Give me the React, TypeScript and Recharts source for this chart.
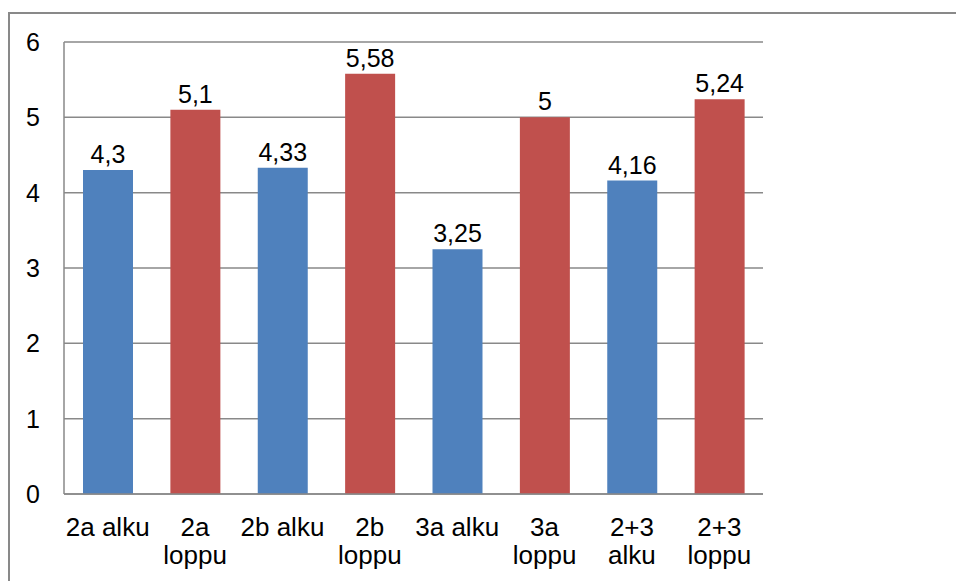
import React from "react";
import { Bar, BarChart, CartesianGrid, Cell, LabelList, XAxis, YAxis } from "recharts";

const categories = ["2a alku", "2a\nloppu", "2b alku", "2b\nloppu", "3a alku", "3a\nloppu", "2+3\nalku", "2+3\nloppu"];
const values = [4.3, 5.1, 4.33, 5.58, 3.25, 5, 4.16, 5.24];
const barColors = ["#4F81BD", "#C0504D", "#4F81BD", "#C0504D", "#4F81BD", "#C0504D", "#4F81BD", "#C0504D"];
const yTicks = [0, 1, 2, 3, 4, 5, 6];

const data = categories.map((name, i) => ({ name, value: values[i] }));

const FONT = "'Liberation Sans', Arial, sans-serif";
const GRAY = "#898989";

function CategoryTick({ x, y, payload }: any) {
  const lines = String(payload.value).split("\n");
  return (
    <text x={x} y={y} textAnchor="middle" fontFamily={FONT} fontSize={26} fill="#000">
      {lines.map((line, i) => (
        <tspan key={i} x={x} dy={i === 0 ? 42 : 28}>
          {line}
        </tspan>
      ))}
    </text>
  );
}

const fmt = (v: any) => String(v).replace(".", ",");

export default function App() {
  return (
    <div style={{ position: "absolute", left: 0, top: 0, width: 956, height: 581, overflow: "hidden", background: "#fff" }}>
      <div
        style={{
          position: "absolute",
          left: 8,
          top: 12,
          width: 1000,
          height: 640,
          border: `2px solid ${GRAY}`,
          boxSizing: "border-box",
        }}
      />
      <div style={{ position: "absolute", left: 0, top: 0 }}>
        <BarChart width={956} height={581} data={data} margin={{ top: 42, right: 193, left: 0, bottom: 7 }}>
          <CartesianGrid vertical={false} stroke={GRAY} strokeWidth={1.5} />
          <XAxis
            dataKey="name"
            interval={0}
            tickLine={false}
            tickSize={0}
            tickMargin={0}
            height={80}
            axisLine={{ stroke: GRAY, strokeWidth: 1.5 }}
            tick={<CategoryTick />}
          />
          <YAxis
            domain={[0, 6]}
            ticks={yTicks}
            width={64}
            tickLine={false}
            tickSize={0}
            tickMargin={24}
            axisLine={{ stroke: GRAY, strokeWidth: 1.5 }}
            tick={{ fill: "#000", fontSize: 25, fontFamily: FONT }}
          />
          <Bar dataKey="value" barSize={50} isAnimationActive={false}>
            {data.map((_, i) => (
              <Cell key={i} fill={barColors[i]} />
            ))}
            <LabelList
              dataKey="value"
              position="top"
              offset={7}
              formatter={fmt}
              style={{ fill: "#000", fontSize: 25, fontFamily: FONT }}
            />
          </Bar>
        </BarChart>
      </div>
    </div>
  );
}
